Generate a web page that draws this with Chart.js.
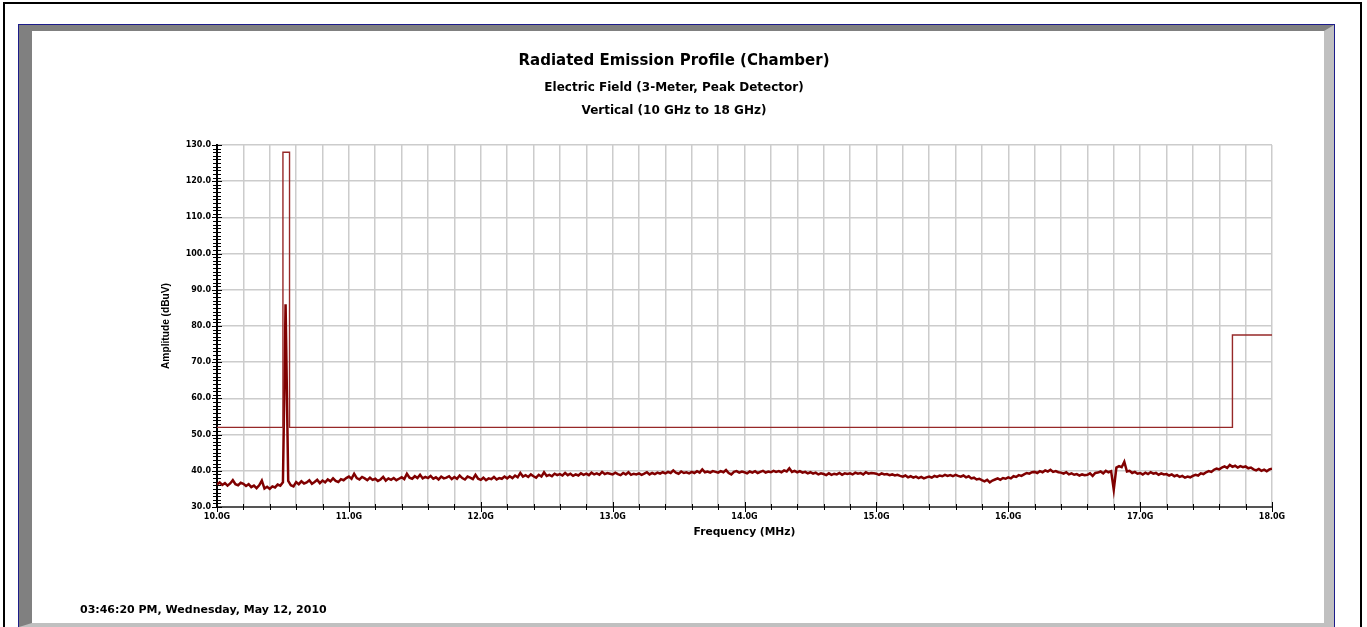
<!DOCTYPE html>
<html>
<head>
<meta charset="utf-8">
<title>Radiated Emission Profile (Chamber)</title>
<script src="https://cdn.jsdelivr.net/npm/chart.js@4.4.1/dist/chart.umd.min.js"></script>
<style>
  html, body { margin: 0; padding: 0; background: #fff; overflow: hidden; }
  #page { position: relative; width: 1367px; height: 627px; }
  .outer { position: absolute; left: 3px; top: 2px; width: 1359px; height: 700px; border: 2px solid #000; box-sizing: border-box; }
  .panel { position: absolute; left: 18px; top: 24px; width: 1317px; height: 604px; border: 1px solid #1c1c8a; box-sizing: border-box; }
  .bevel { position: absolute; left: 0; top: 0; right: 0; bottom: 0; border-style: solid; border-width: 6px 10px 4px 13px;
           border-color: #808080 #c0c0c0 #c0c0c0 #808080; }
  #grafico { position: absolute; left: 0; top: 0; }
  #stamp { position: absolute; left: 80px; top: 603px; font: bold 11px 'DejaVu Sans', sans-serif; color: #000; }
</style>
</head>
<body>
<div id="page">
  <div class="outer"></div>
  <div class="panel"><div class="bevel"></div></div>
  <canvas id="grafico" width="1367" height="627"></canvas>
  <div id="stamp">03:46:20 PM, Wednesday, May 12, 2010</div>
</div>
<script>
// limit line (dBuV) as corner points of the stepped mask
const limitFreq  = [10.0, 10.5, 10.5, 10.55, 10.55, 17.7, 17.7, 18.0];
const limitLevel = [52.0, 52.0, 128.0, 128.0, 52.0, 52.0, 77.5, 77.5];

// peak detector sweep, one reading every 20 MHz from 10.0 GHz
const sweepStart = 10.0;
const sweepStep = 0.02;
const traceLevel = [
  36.2, 36.8, 36.1, 36.6, 35.9, 36.5, 37.4, 36.3, 36.0, 36.7,
  36.4, 35.8, 36.3, 35.5, 35.9, 35.2, 36.0, 37.3, 35.1, 35.6,
  35.0, 35.7, 35.4, 36.2, 35.9, 36.8, 86.0, 37.2, 36.0, 35.7,
  36.9, 36.3, 37.1, 36.5, 36.8, 37.4, 36.4, 36.9, 37.5, 36.6,
  37.3, 36.8, 37.6, 37.1, 37.9, 37.2, 36.9, 37.7, 37.4, 38.0,
  38.4, 37.8, 39.2, 38.0, 37.6, 38.3, 37.9, 37.4, 38.1, 37.5,
  37.8, 37.2, 37.6, 38.3, 37.3, 37.9, 37.5, 38.0, 37.4, 37.8,
  38.2, 37.7, 39.2, 38.1, 37.8, 38.5, 38.0, 38.9, 37.9, 38.3,
  38.0, 38.6, 37.8, 38.2, 37.6, 38.4, 37.9, 38.1, 38.5, 37.7,
  38.3, 37.8, 38.7, 38.0, 37.6, 38.4, 38.1, 37.7, 38.9, 37.8,
  37.5, 38.1, 37.4, 37.9, 37.7, 38.3, 37.6, 38.0, 37.8, 38.4,
  37.9, 38.5, 38.0, 38.7, 38.2, 39.4, 38.4, 38.8, 38.3, 39.0,
  38.5, 38.1, 38.9, 38.4, 39.6, 38.6, 38.9, 38.5, 39.2, 38.8,
  39.1, 38.7, 39.4, 38.8, 39.2, 38.6, 39.0, 38.7, 39.3, 38.9,
  39.2, 38.8, 39.5, 39.0, 39.3, 38.9, 39.7, 39.1, 39.4, 39.2,
  39.0, 39.5, 39.1, 38.8, 39.4, 39.0, 39.6, 38.9, 39.2, 39.0,
  39.3, 38.9, 39.2, 39.6, 39.0, 39.4, 39.1, 39.5, 39.2, 39.6,
  39.3, 39.7, 39.4, 40.1, 39.5, 39.2, 39.8, 39.4, 39.6, 39.3,
  39.7, 39.4, 39.9, 39.5, 40.4, 39.6, 39.8, 39.5, 39.9, 39.7,
  39.5, 39.9, 39.6, 40.2, 39.4, 39.0, 39.7, 39.9, 39.5, 39.8,
  39.6, 39.3, 39.8, 39.5, 39.9, 39.4, 39.7, 40.0, 39.5, 39.8,
  39.6, 40.0, 39.7, 39.9, 39.6, 40.1, 39.8, 40.7, 39.7, 40.0,
  39.6, 39.9, 39.5, 39.7, 39.3, 39.6, 39.2, 39.5, 39.0, 39.3,
  39.1, 38.8, 39.3, 38.9, 39.2, 39.0, 39.4, 38.9, 39.3, 39.1,
  39.3, 39.0, 39.5, 39.2, 39.4, 39.0, 39.6, 39.2, 39.4, 39.3,
  39.2, 38.9, 39.3, 39.0, 39.1, 38.8, 39.0, 38.7, 38.9, 38.6,
  38.4, 38.7, 38.2, 38.5, 38.1, 38.4, 38.0, 38.3, 37.9, 38.2,
  38.4, 38.1, 38.6, 38.3, 38.7, 38.5, 38.9, 38.6, 38.8, 38.5,
  38.9, 38.6, 38.4, 38.7, 38.2, 38.5, 37.9, 38.1, 37.6, 37.8,
  37.4, 37.1, 37.5, 36.8, 37.3, 37.6, 37.9, 37.5, 38.0, 37.8,
  38.2, 37.9, 38.5, 38.3, 38.8, 38.6, 39.0, 39.4, 39.2, 39.6,
  39.7, 39.4, 39.9, 39.6, 40.1, 39.8, 40.3, 39.7, 39.9, 39.6,
  39.5, 39.2, 39.6, 39.0, 39.3, 38.9, 39.1, 38.7, 39.0, 38.8,
  38.9, 39.3, 38.6, 39.4, 39.5, 39.8, 39.3, 40.0, 39.6, 39.9,
  34.8, 40.9, 41.3, 41.0, 42.5, 39.8, 40.0, 39.4, 39.7, 39.2,
  39.4, 39.0, 39.5, 39.1, 39.6, 39.2, 39.4, 38.9, 39.3, 39.0,
  39.1, 38.7, 39.0, 38.5, 38.8, 38.3, 38.6, 38.1, 38.4, 38.2,
  38.6, 38.9, 38.7, 39.3, 39.1, 39.6, 39.9, 39.7, 40.3, 40.6,
  40.4, 40.9, 41.2, 40.8, 41.6, 41.1, 41.4, 40.9, 41.3, 41.0,
  41.2, 40.7, 40.9, 40.4, 40.1, 40.5, 40.0, 40.3, 39.9, 40.4,
  40.6
];

const fonte = "'DejaVu Sans', sans-serif";
Chart.defaults.font.family = fonte;
Chart.defaults.color = '#000';

// tick marks that cross the axis lines, like the analyzer plot
const marcasEixo = {
  id: 'marcasEixo',
  beforeDatasetsDraw(chart) {
    const { ctx, chartArea, scales: { x, y } } = chart;
    ctx.save();
    ctx.strokeStyle = '#000';
    ctx.lineWidth = 1;
    y.ticks.forEach(t => {
      const py = Math.round(y.getPixelForValue(t.value)) + 0.5;
      const len = Math.round(t.value) % 10 === 0 ? 5 : 4;
      ctx.beginPath();
      ctx.moveTo(chartArea.left - len, py);
      ctx.lineTo(chartArea.left + len, py);
      ctx.stroke();
    });
    x.ticks.forEach(t => {
      const px = Math.round(x.getPixelForValue(t.value)) + 0.5;
      const major = Math.abs(t.value - Math.round(t.value)) < 1e-6;
      const len = major ? 5 : 3;
      ctx.beginPath();
      ctx.moveTo(px, chartArea.bottom - len);
      ctx.lineTo(px, chartArea.bottom + len);
      ctx.stroke();
    });
    ctx.restore();
  }
};

const ctx = document.getElementById('grafico').getContext('2d');
new Chart(ctx, {
  type: 'line',
  data: {
    datasets: [{
      label: 'Limit',
      data: limitFreq.map((f, i) => ({ x: f, y: limitLevel[i] })),
      borderColor: 'rgb(150, 40, 40)',
      borderWidth: 1.4,
      pointRadius: 0,
      tension: 0
    }, {
      label: 'Peak',
      data: traceLevel.map((v, i) => ({ x: sweepStart + i * sweepStep, y: v })),
      borderColor: 'rgb(128, 0, 0)',
      borderWidth: 2.5,
      pointRadius: 0,
      tension: 0
    }]
  },
  options: {
    responsive: false,
    animation: false,
    layout: { padding: { left: 76, right: 95, top: 0, bottom: 80 } },
    plugins: {
      legend: { display: false },
      tooltip: { enabled: false },
      title: {
        display: true,
        text: 'Radiated Emission Profile (Chamber)',
        color: '#000',
        font: { size: 15, weight: 'bold' },
        padding: { top: 52, bottom: 0 }
      },
      subtitle: {
        display: true,
        text: ['Electric Field (3-Meter, Peak Detector)', 'Vertical (10 GHz to 18 GHz)'],
        color: '#000',
        font: { size: 12, weight: 'bold', lineHeight: 1.917 },
        padding: { top: 6.5, bottom: 22.5 }
      }
    },
    scales: {
      x: {
        type: 'linear',
        min: 10,
        max: 18,
        afterFit: scale => { scale.height = 40; },
        ticks: {
          stepSize: 0.2,
          autoSkip: false,
          maxRotation: 0,
          padding: 5,
          font: { size: 8, weight: 'bold' },
          callback: v => Math.abs(v - Math.round(v)) < 1e-6 ? v.toFixed(1) + 'G' : ''
        },
        grid: { color: '#cccccc', lineWidth: 1.5, drawTicks: false },
        border: { color: '#555', width: 2 },
        title: {
          display: true,
          text: 'Frequency (MHz)',
          font: { size: 10.7, weight: 'bold' },
          padding: { top: 0, bottom: 8.6 }
        }
      },
      y: {
        min: 30,
        max: 130,
        afterFit: scale => { scale.width = 141; },
        ticks: {
          stepSize: 1,
          autoSkip: false,
          padding: 6,
          font: { size: 8, weight: 'bold' },
          callback: v => Math.round(v) % 10 === 0 ? v.toFixed(1) : ''
        },
        grid: {
          color: c => Math.round(c.tick.value) % 10 === 0 ? '#cccccc' : 'rgba(0,0,0,0)',
          lineWidth: 1.5,
          drawTicks: false
        },
        border: { color: '#000', width: 2 },
        title: {
          display: true,
          text: 'Amplitude (dBuV)',
          font: { family: "'Liberation Sans', Arial, sans-serif", size: 10.2, weight: 'bold' },
          padding: { top: 83.9, bottom: 0 }
        }
      }
    }
  },
  plugins: [marcasEixo]
});
</script>
</body>
</html>
